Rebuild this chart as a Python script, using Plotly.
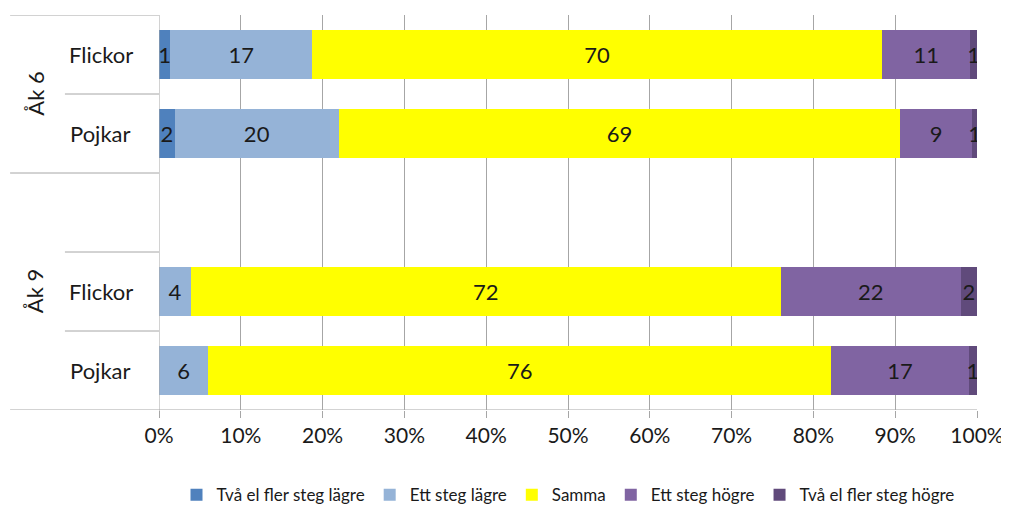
import plotly.graph_objects as go

groups = ["Åk 6", "Åk 6", "Åk 9", "Åk 9", "Åk 9"]
subs = ["Flickor", "Pojkar", "", "Flickor", "Pojkar"]

series_names = ["Två el fler steg lägre", "Ett steg lägre", "Samma", "Ett steg högre", "Två el fler steg högre"]
two_lower = [1.4, 1.9, None, None, None]
one_lower = [17.3, 20.1, None, 3.9, 6.0]
same = [69.7, 68.6, None, 72.1, 76.2]
one_higher = [10.8, 8.8, None, 22.0, 16.8]
two_higher = [0.8, 0.6, None, 2.0, 1.0]
colors = ["#4F81BD", "#95B3D7", "#FFFF00", "#8064A2", "#604A7B"]

x_ticks = list(range(0, 101, 10))
x_ticktext = [f"{v}%" for v in x_ticks]

FONT = "Lato"
GRID = "#A6A6A6"
TXT = "#1a1a1a"

ypos = list(range(len(subs)))
fig = go.Figure()
for name, vals, col in zip(series_names, [two_lower, one_lower, same, one_higher, two_higher], colors):
    fig.add_trace(go.Bar(
        y=ypos, x=vals, name=name, orientation="h",
        marker=dict(color=col, line=dict(width=0)),
        text=[("" if v is None else str(round(v))) for v in vals],
        textposition="inside", insidetextanchor="middle", textangle=0,
        textfont=dict(family=FONT, size=22, color=TXT),
        constraintext="none",
        hoverinfo="skip",
    ))

fig.update_layout(
    width=1001, height=502,
    barmode="stack", barnorm="percent", bargap=0.37,
    uniformtext=dict(minsize=22, mode="show"),
    plot_bgcolor="white", paper_bgcolor="white",
    margin=dict(l=151, r=32, t=7, b=100, autoexpand=False),
    font=dict(family=FONT, size=22, color=TXT),
    showlegend=True,
    legend=dict(orientation="h", x=0.5, xanchor="center", y=-0.17, yanchor="top",
                font=dict(family=FONT, size=17, color=TXT), traceorder="normal",
                itemwidth=30, tracegroupgap=0),
    xaxis=dict(range=[0, 100], tickmode="array", tickvals=x_ticks, ticktext=x_ticktext,
               showgrid=True, gridcolor=GRID, gridwidth=1,
               showline=False, zeroline=False,
               ticks="outside", ticklen=7, tickcolor=GRID,
               tickfont=dict(family=FONT, size=21, color=TXT)),
    yaxis=dict(range=[len(subs) - 0.5, -0.5], showticklabels=False,
               showgrid=False, zeroline=False, showline=False, ticks=""),
)

# axis lines
fig.add_shape(type="line", xref="x", yref="paper", x0=0, x1=0, y0=-0.018, y1=1,
              line=dict(color=GRID, width=1))
fig.add_shape(type="line", xref="x", yref="y", x0=0, x1=100,
              y0=len(subs) - 0.5, y1=len(subs) - 0.5, line=dict(color=GRID, width=1))

# multi-level category divider lines
x_full = -0.182
x_short = -0.115
boundaries = [-0.5] + [i + 0.5 for i in range(len(subs))]
for k, b in enumerate(boundaries):
    if k == 0 or k == len(subs) or groups[k - 1] != groups[k]:
        x0 = x_full
    else:
        x0 = x_short
    fig.add_shape(type="line", xref="paper", yref="y", x0=x0, x1=0, y0=b, y1=b,
                  line=dict(color=GRID, width=1))

for i, s in enumerate(subs):
    if s:
        fig.add_annotation(xref="paper", yref="y", x=-0.071, y=i, text=s, showarrow=False,
                           xanchor="center", yanchor="middle",
                           font=dict(family=FONT, size=22, color=TXT))

seen = []
for g in groups:
    if g not in seen:
        seen.append(g)
for g in seen:
    idx = [i for i, gg in enumerate(groups) if gg == g]
    center = (idx[0] + idx[-1]) / 2
    fig.add_annotation(xref="paper", yref="y", x=-0.152, y=center, text=g, showarrow=False,
                       xanchor="center", yanchor="middle",
                       textangle=-90, font=dict(family=FONT, size=22, color=TXT))

fig.write_html("out.html")
